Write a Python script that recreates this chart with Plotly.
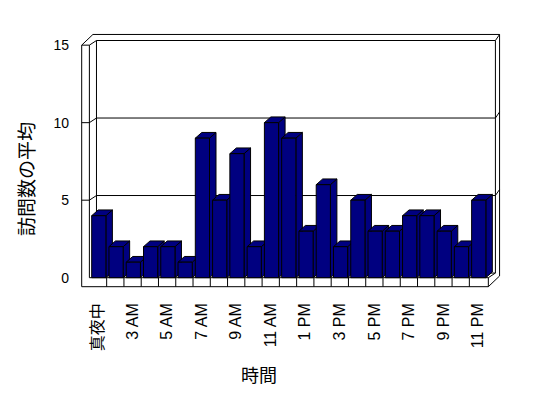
import plotly.graph_objects as go

# ---- data ----
hours = ["真夜中", "1 AM", "3 AM", "4 AM", "5 AM", "6 AM", "7 AM", "8 AM",
         "9 AM", "10 AM", "11 AM", "12 PM", "1 PM", "2 PM", "3 PM", "4 PM",
         "5 PM", "6 PM", "7 PM", "8 PM", "9 PM", "10 PM", "11 PM"]
visits = [4, 2, 1, 2, 2, 1, 9, 5, 8, 2, 10, 9, 3, 6, 2, 5, 3, 3, 4, 4, 3, 2, 5]
y_ticks = [0, 5, 10, 15]
x_title = "時間"
y_title = "訪問数の平均"

# ---- style / geometry (data units) ----
NAVY = "#000080"
FONT = "Liberation Sans, Arial, Noto Sans CJK JP, sans-serif"
NARROW = "Liberation Sans Narrow, Liberation Sans, Noto Sans CJK JP, sans-serif"
BAR_OFF, BAR_W = 0.044, 0.822      # front face position inside category
DEP_X, DEP_Y = 0.376, 0.37         # bar depth (oblique projection)
WALL = 0.446                       # left wall thickness
FLOOR = 0.58                       # floor thickness
D1X, D1Y = 0.41, 0.30              # back wall front face offset
D2X, D2Y = 0.65, 0.69              # back wall back face offset
YMAX = 15

N = len(hours)
idx = list(range(N))
XL = -0.5
XR = N - 0.5 + 0.1

fig = go.Figure()

side_x, side_y, top_x, top_y, fr_x, fr_y = [], [], [], [], [], []
for k, v in zip(idx, visits):
    l = k + BAR_OFF - BAR_W / 2
    r = k + BAR_OFF + BAR_W / 2
    side_x += [r, r + DEP_X, r + DEP_X, r, r, None]
    side_y += [0, DEP_Y, v + DEP_Y, v, 0, None]
    top_x += [l, r, r + DEP_X, l + DEP_X, l, None]
    top_y += [v, v, v + DEP_Y, v + DEP_Y, v, None]
    fr_x += [l, r, r, l, l, None]
    fr_y += [0, 0, v, v, 0, None]

for xs, ys in [(side_x, side_y), (top_x, top_y), (fr_x, fr_y)]:
    fig.add_trace(go.Scatter(x=xs, y=ys, mode="lines", fill="toself",
                             fillcolor=NAVY, line=dict(color="black", width=1),
                             hoverinfo="skip", showlegend=False))

# ---- frame (walls, floor, gridlines) ----
def seg(x0, y0, x1, y1):
    fig.add_shape(type="line", x0=x0, y0=y0, x1=x1, y1=y1, xref="x", yref="y",
                  line=dict(color="black", width=1), layer="below")

XO = XL - WALL
# left wall front face
seg(XO, -FLOOR, XO, YMAX)
seg(XL, 0, XL, YMAX)
seg(XO, YMAX, XL, YMAX)
# top-left corner to back wall
seg(XO, YMAX, XO + D2X, YMAX + D2Y)
seg(XL, YMAX, XL + D1X, YMAX + D1Y)
# back wall top edges
seg(XO + D2X, YMAX + D2Y, XR + D2X, YMAX + D2Y)
seg(XL + D1X, YMAX + D1Y, XR + D1X, YMAX + D1Y)
seg(XR + D1X, YMAX + D1Y, XR + D2X, YMAX + D2Y)
# back wall right / left edges
seg(XR + D2X, YMAX + D2Y, XR + D2X, D2Y - FLOOR)
seg(XR + D1X, YMAX + D1Y, XR + D1X, D1Y)
seg(XL + D1X, YMAX + D1Y, XL + D1X, D1Y)
# floor
seg(XO, -FLOOR, XR, -FLOOR)
seg(XL, 0, XR, 0)
seg(XR, 0, XR, -FLOOR)
seg(XR, -FLOOR, XR + D2X, D2Y - FLOOR)
seg(XR, 0, XR + D1X, D1Y)
seg(XL + D1X, D1Y, XR + D1X, D1Y)
for k in idx[:-1]:
    seg(k + 0.5, 0, k + 0.5, -FLOOR)
# gridlines
for t in y_ticks[1:-1]:
    seg(XO, t, XL, t)
    seg(XL, t, XL + D1X, t + D1Y)
    seg(XL + D1X, t + D1Y, XR + D1X, t + D1Y)
    seg(XR + D1X, t + D1Y, XR + D2X, t + D2Y)

fig.add_annotation(text=x_title, xref="paper", yref="paper", x=0.4295, y=-0.30,
                   xanchor="center", yanchor="middle",
                   showarrow=False, font=dict(size=18, family=FONT, color="black"))
fig.add_annotation(text=y_title, xref="paper", yref="paper", x=-0.0955, y=0.43,
                   xanchor="center", yanchor="middle",
                   textangle=-90, showarrow=False,
                   font=dict(size=19, family=FONT, color="black"))

fig.update_layout(
    width=548, height=398, autosize=False,
    margin=dict(l=70, r=38, t=25, b=103),
    paper_bgcolor="white", plot_bgcolor="white",
    font=dict(family=FONT, color="black"),
    xaxis=dict(range=[-1.623, 23.854], showgrid=False, zeroline=False,
               showline=False, ticks="", tickvals=idx[::2], ticktext=hours[::2],
               tickangle=-90, ticklabelstandoff=4,
               tickfont=dict(size=16, family=NARROW, color="black")),
    yaxis=dict(range=[-1.116, 16.30], showgrid=False, zeroline=False,
               showline=False, ticks="", tickvals=y_ticks,
               tickfont=dict(size=14, family=FONT, color="black")),
)

fig.write_html("out.html")
